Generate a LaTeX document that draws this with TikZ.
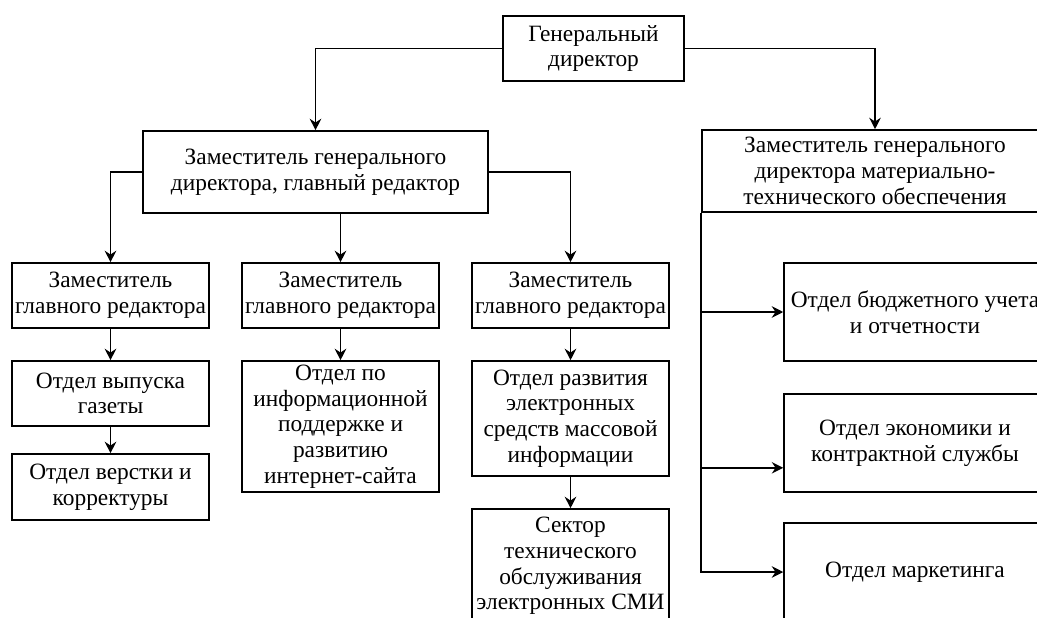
\documentclass[tikz,border=0pt]{standalone}
\usepackage{fontspec}
\setmainfont{Liberation Serif}
\usepackage{tikz}
\usetikzlibrary{arrows.meta}

\begin{document}
\begin{tikzpicture}[x=0.02cm,y=-0.02cm,line width=0.9pt,
  >={Stealth[length=6.5pt,width=6.5pt]},
  box/.style={draw,align=center,inner sep=0pt,font=\fontsize{13.3}{14.6}\selectfont,
    minimum width=3.94cm,minimum height=1.3cm}]
\useasboundingbox (0,0) rectangle (1037,618);
\clip (0,0) rectangle (1037,618);
\node[box,minimum width=3.62cm] (gen) at (593.5,48.5) {Генеральный\\директор};
\node[box,minimum width=6.9cm,minimum height=1.64cm] (zam) at (315.5,172) {Заместитель генерального\\директора, главный редактор};
\node[box,minimum width=6.92cm,minimum height=1.64cm] (zmt) at (875,171) {Заместитель генерального\\директора материально-\\технического обеспечения};
% left column
\node[box] (zr1) at (110.5,295.5) {Заместитель\\главного редактора};
\node[box] (vyp) at (110.5,393.5) {Отдел выпуска\\газеты};
\node[box,minimum height=1.32cm] (ver) at (110.5,487) {Отдел верстки и\\корректуры};
% middle column
\node[box] (zr2) at (340.5,295.5) {Заместитель\\главного редактора};
\node[box,minimum height=2.62cm] (inf) at (340.5,426.5) {Отдел по\\информационной\\поддержке и\\развитию\\интернет-сайта};
% right column
\node[box] (zr3) at (570.5,295.5) {Заместитель\\главного редактора};
\node[box,minimum height=2.3cm] (smi) at (570.5,418.5) {Отдел развития\\электронных\\средств массовой\\информации};
\node[box,minimum height=2.28cm] (sek) at (570.5,566) {Сектор\\технического\\обслуживания\\электронных СМИ};
% material support
\node[box,minimum width=5.24cm,minimum height=1.96cm] (bud) at (915,312) {Отдел бюджетного учета\\и отчетности};
\node[box,minimum width=5.24cm,minimum height=1.96cm] (eko) at (915,443) {Отдел экономики и\\контрактной службы};
\node[box,minimum width=5.24cm,minimum height=1.96cm] (mar) at (915,572) {Отдел маркетинга};

\draw[->] (gen.west) -| (zam.north);
\draw[->] (gen.east) -| (zmt.north);
\draw[->] (zam.west) -| (zr1.north);
\draw[->] (zr2.north |- zam.south) -- (zr2.north);
\draw[->] (zam.east) -| (zr3.north);
\draw[->] (zr1) -- (vyp);
\draw[->] (vyp) -- (ver);
\draw[->] (zr2) -- (inf);
\draw[->] (zr3) -- (smi);
\draw[->] (smi) -- (sek);
\draw[->] (zmt.south west) |- (bud.west);
\draw[->] (zmt.south west) |- ([yshift=0.5cm]eko.south west);
\draw[->] (zmt.south west) |- (mar.west);
\end{tikzpicture}
\end{document}
